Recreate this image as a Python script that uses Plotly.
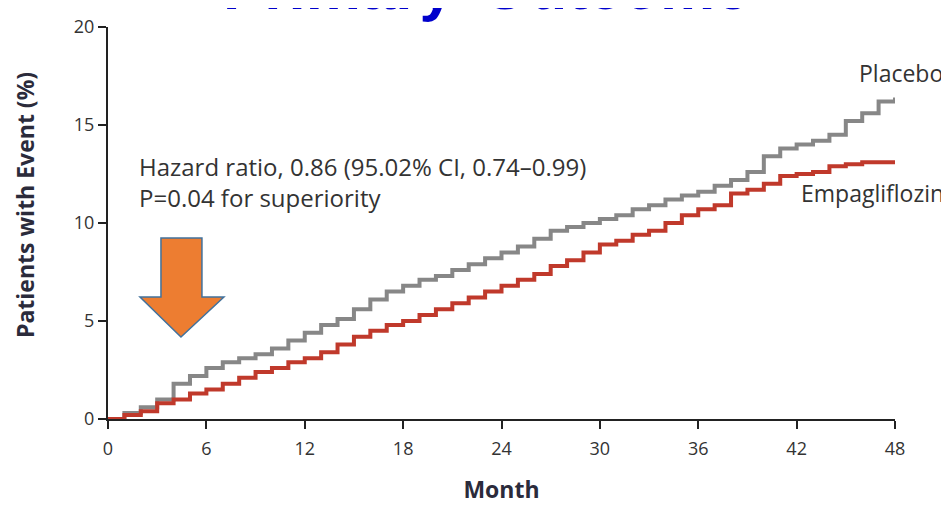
import plotly.graph_objects as go

months = list(range(0, 49))
placebo = [0, 0.3, 0.6, 1.0, 1.8, 2.2, 2.6, 2.9, 3.1, 3.3, 3.6, 4.0, 4.4, 4.8, 5.1, 5.6,
           6.1, 6.5, 6.8, 7.1, 7.3, 7.6, 7.9, 8.2, 8.5, 8.8, 9.2, 9.6, 9.8, 10.0, 10.2,
           10.4, 10.7, 10.9, 11.2, 11.4, 11.6, 11.9, 12.2, 12.6, 13.4, 13.8, 14.0, 14.2,
           14.5, 15.2, 15.6, 16.2, 16.4]
empa = [0, 0.2, 0.4, 0.8, 1.0, 1.3, 1.5, 1.8, 2.1, 2.4, 2.6, 2.9, 3.1, 3.4, 3.8, 4.2,
        4.5, 4.8, 5.0, 5.3, 5.6, 5.9, 6.2, 6.5, 6.8, 7.1, 7.4, 7.8, 8.1, 8.5, 8.9,
        9.1, 9.4, 9.6, 10.0, 10.4, 10.7, 10.9, 11.5, 11.7, 12.0, 12.4, 12.5, 12.6,
        12.9, 13.0, 13.1, 13.1, 13.1]
x_ticks = [0, 6, 12, 18, 24, 30, 36, 42, 48]
y_ticks = [0, 5, 10, 15, 20]

fig = go.Figure()
fig.add_trace(go.Scatter(x=months, y=placebo, mode="lines", line_shape="hv",
                         line=dict(color="#878787", width=4), name="Placebo"))
fig.add_trace(go.Scatter(x=months, y=empa, mode="lines", line_shape="hv",
                         line=dict(color="#c0392b", width=4), name="Empagliflozin"))

tickfont = dict(family="Open Sans, sans-serif", size=18, color="#333")
titlefont = dict(family="Open Sans, sans-serif", size=23, color="#2b2b3b")
labelfont = dict(family="Open Sans, sans-serif", size=23, color="#333")

# page body has an 8px margin, so the figure is offset by 8px
fig.update_layout(
    width=941, height=497,
    margin=dict(l=100, r=54, t=19, b=86),
    plot_bgcolor="white", paper_bgcolor="white",
    showlegend=False,
    xaxis=dict(range=[0, 48], tickvals=x_ticks, ticks="outside", ticklen=8, tickwidth=2,
               tickcolor="#222", showline=True, linecolor="#222", linewidth=2,
               showgrid=False, zeroline=False, tickfont=tickfont, automargin=False,
               ticklabelstandoff=4,
               title=dict(text="<b>Month</b>", font=titlefont, standoff=27)),
    yaxis=dict(range=[0, 20], tickvals=y_ticks, ticks="outside", ticklen=8, tickwidth=2,
               tickcolor="#222", showline=True, linecolor="#222", linewidth=2,
               showgrid=False, zeroline=False, tickfont=tickfont, automargin=False),
)

def px_x(p):
    return (p - 108) / 787

def px_y(p):
    return (419 - p) / 392

# Y axis title (placed slightly above the plot centre, as in the reference)
fig.add_annotation(text="<b>Patients with Event (%)</b>", xref="paper", yref="paper",
                   x=px_x(25), y=px_y(205), xanchor="center", yanchor="middle",
                   textangle=-90, showarrow=False, font=titlefont)

# Title (partially cut off at top)
title_font = dict(family="Liberation Sans, Arial, sans-serif", size=62, color="#0000cc")
fig.add_annotation(text="<b>Primary</b>", xref="paper", yref="paper",
                   x=px_x(456), y=1.0085, xanchor="right", yanchor="bottom", showarrow=False,
                   font=title_font)
fig.add_annotation(text="<b>Outcome</b>", xref="paper", yref="paper",
                   x=px_x(479), y=1.0085, xanchor="left", yanchor="bottom", showarrow=False,
                   font=title_font)

# Statistics annotation
fig.add_annotation(text="Hazard ratio, 0.86 (95.02% CI, 0.74–0.99)<br>P=0.04 for superiority",
                   xref="paper", yref="paper", x=px_x(137), y=px_y(148),
                   xanchor="left", yanchor="top", align="left", showarrow=False,
                   font=dict(family="Open Sans, sans-serif", size=24, color="#333"))

# Series labels
fig.add_annotation(text="Placebo", xref="paper", yref="paper", x=px_x(945),
                   y=px_y(73), xanchor="right", yanchor="middle", showarrow=False,
                   font=labelfont)
fig.add_annotation(text="Empagliflozin", xref="paper", yref="paper", x=px_x(946),
                   y=px_y(193), xanchor="right", yanchor="middle", showarrow=False,
                   font=labelfont)

# Orange block arrow
arrow_path = "M 3.23 9.23 L 5.73 9.23 L 5.73 6.22 L 7.07 6.22 L 4.45 4.18 L 1.95 6.22 L 3.23 6.22 Z"
fig.add_shape(type="path", path=arrow_path, xref="x", yref="y",
              fillcolor="#ED7D31", line=dict(color="#41719C", width=1.5))

fig.write_html("out.html")
